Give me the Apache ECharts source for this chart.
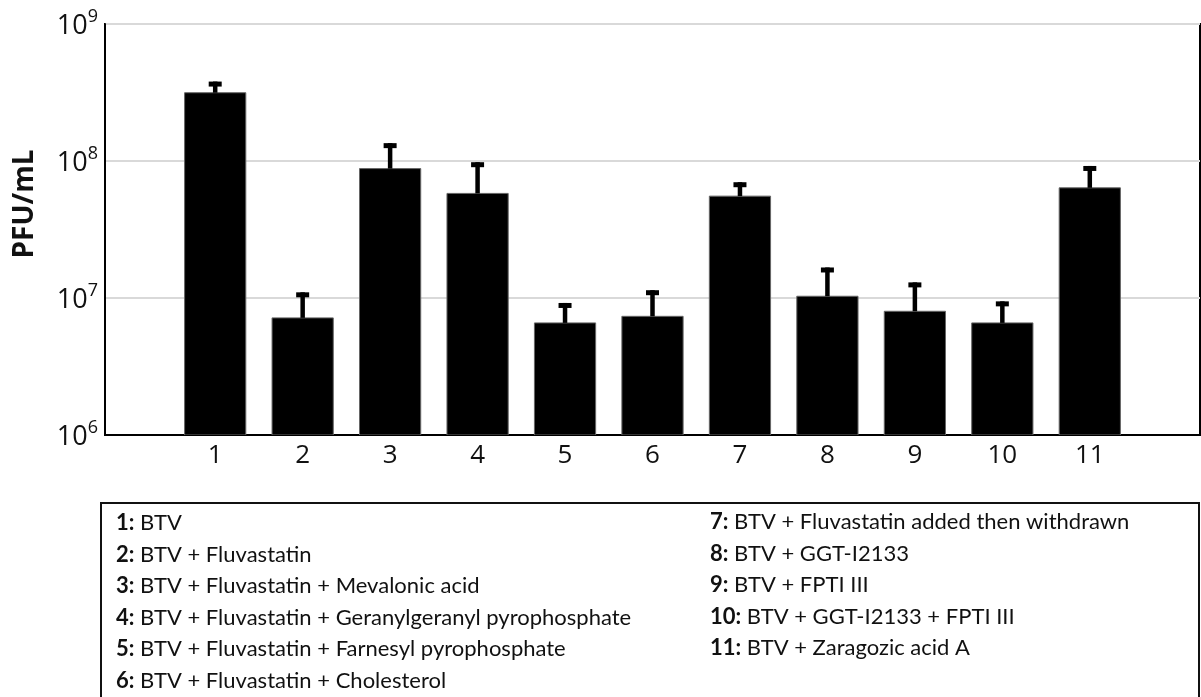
<!DOCTYPE html>
<html>
<head>
<meta charset="utf-8">
<script src="https://cdn.jsdelivr.net/npm/echarts@6/dist/echarts.min.js"></script>
<style>
html,body{margin:0;padding:0;background:#fff;}
#chart{width:1201px;height:697px;}
</style>
</head>
<body>
<div id="chart"></div>
<script>
// ---- data ----
const categories = [1, 2, 3, 4, 5, 6, 7, 8, 9, 10, 11];
const meanValues = [3.15e8, 7.16e6, 8.8e7, 5.8e7, 6.58e6, 7.35e6, 5.54e7, 1.03e7, 8.0e6, 6.58e6, 6.37e7];
const upperValues = [3.8e8, 1.1e7, 1.35e8, 9.8e7, 9.2e6, 1.14e7, 7.0e7, 1.67e7, 1.3e7, 9.45e6, 9.2e7];
const yTickExponents = [6, 7, 8, 9];
const legendLeft = [
  ['1:', ' BTV'],
  ['2:', ' BTV + Fluvastatin'],
  ['3:', ' BTV + Fluvastatin + Mevalonic acid'],
  ['4:', ' BTV + Fluvastatin + Geranylgeranyl pyrophosphate'],
  ['5:', ' BTV + Fluvastatin + Farnesyl pyrophosphate'],
  ['6:', ' BTV + Fluvastatin + Cholesterol']
];
const legendRight = [
  ['7:', ' BTV + Fluvastatin added then withdrawn'],
  ['8:', ' BTV + GGT-I2133'],
  ['9:', ' BTV + FPTI III'],
  ['10:', ' BTV + GGT-I2133 + FPTI III'],
  ['11:', ' BTV + Zaragozic acid A']
];
const yTitle = 'PFU/mL';

// ---- chart ----
const chart = echarts.init(document.getElementById('chart'), null, {renderer: 'canvas'});
const seriesData = categories.map((c, i) => [c, meanValues[i], upperValues[i]]);

const legendFont = 'Lato, "Noto Sans", sans-serif';
const graphics = [
  {
    type: 'rect', shape: {x: 101, y: 503, width: 1098, height: 220},
    style: {fill: 'none', stroke: '#111', lineWidth: 2}, silent: true
  },
  {
    type: 'text', x: 25, y: 204, rotation: Math.PI / 2,
    style: {text: yTitle, font: 'bold 28px "Open Sans", sans-serif', fill: '#111',
            textAlign: 'center', textVerticalAlign: 'middle'}
  }
];
function addLegendColumn(rows, x, y0, pitch) {
  rows.forEach((r, i) => {
    graphics.push({
      type: 'text', x: x, y: y0 + i * pitch,
      style: {
        text: '{b|' + r[0] + '}{n|' + r[1] + '}',
        rich: {
          b: {fontFamily: legendFont, fontSize: 22, fontWeight: 'bold', fill: '#111'},
          n: {fontFamily: legendFont, fontSize: 22, fill: '#111'}
        },
        textVerticalAlign: 'middle', textAlign: 'left'
      }
    });
  });
}
addLegendColumn(legendLeft, 116, 523, 31.5);
addLegendColumn(legendRight, 710, 522, 31.6);

const option = {
  animation: false,
  backgroundColor: '#fff',
  grid: {left: 105, right: 1, top: 24, bottom: 262, show: true,
         borderColor: '#000', borderWidth: 2, backgroundColor: 'transparent'},
  xAxis: {
    type: 'value', min: -0.26, max: 12.26,
    axisLine: {show: true, onZero: false, lineStyle: {color: '#000', width: 2}},
    axisTick: {show: false},
    splitLine: {show: false},
    axisLabel: {
      customValues: categories,
      fontFamily: '"Open Sans", sans-serif', fontSize: 26, color: '#111', margin: 8,
      formatter: v => String(v)
    }
  },
  yAxis: {
    type: 'log', logBase: 10, min: 1e6, max: 1e9,
    axisLine: {show: true, onZero: false, lineStyle: {color: '#000', width: 2}},
    axisTick: {show: false},
    splitLine: {show: true, lineStyle: {color: '#d9d9d9', width: 2}},
    axisLabel: {
      margin: 7,
      formatter: v => {
        const e = Math.round(Math.log10(v));
        return yTickExponents.indexOf(e) >= 0 ? '{b|10}{s|' + e + '}' : '';
      },
      rich: {
        b: {fontFamily: '"Open Sans", sans-serif', fontSize: 27, color: '#111', lineHeight: 32, verticalAlign: 'bottom'},
        s: {fontFamily: '"Open Sans", sans-serif', fontSize: 18, color: '#111', lineHeight: 20, verticalAlign: 'top'}
      }
    }
  },
  series: [{
    type: 'custom',
    data: seriesData,
    encode: {x: 0, y: 1},
    clip: true,
    renderItem: function (params, api) {
      const x = api.value(0);
      const v = api.value(1);
      const up = api.value(2);
      const base = api.coord([x, 1e6]);
      const top = api.coord([x, v]);
      const errTop = api.coord([x, up]);
      const w = api.size([0.7, 0])[0];
      const stemW = 4.5, capW = 13, capH = 5;
      return {
        type: 'group',
        children: [
          {type: 'rect', shape: {x: top[0] - w / 2, y: top[1], width: w, height: base[1] - top[1]},
           style: {fill: '#000', stroke: '#666', lineWidth: 1}},
          {type: 'rect', shape: {x: top[0] - stemW / 2, y: errTop[1], width: stemW, height: top[1] - errTop[1]},
           style: {fill: '#000'}},
          {type: 'rect', shape: {x: top[0] - capW / 2, y: errTop[1], width: capW, height: capH},
           style: {fill: '#000'}}
        ]
      };
    }
  }],
  graphic: graphics
};
chart.setOption(option);
</script>
</body>
</html>
